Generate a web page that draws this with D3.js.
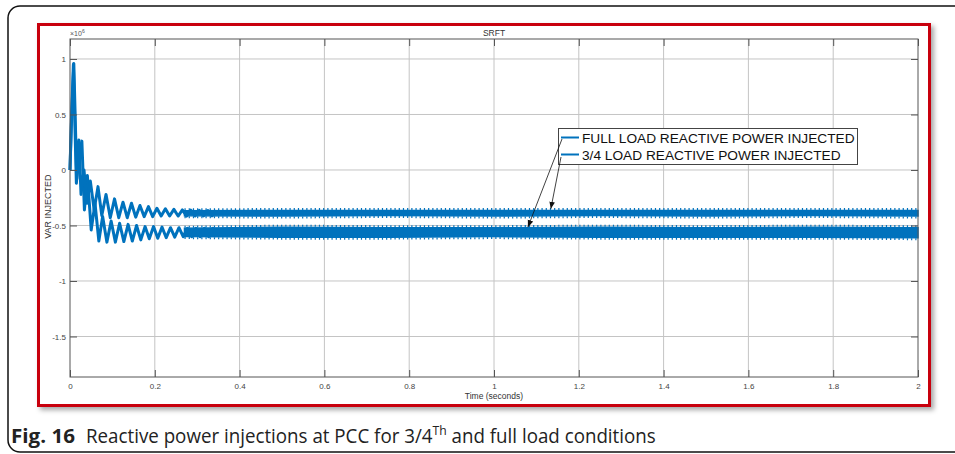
<!DOCTYPE html>
<html>
<head>
<meta charset="utf-8">
<script src="https://cdn.jsdelivr.net/npm/d3@7"></script>
<style>
  body { margin: 0; background: #fff; }
  svg { display: block; }
  text { font-family: "Liberation Sans", Arial, sans-serif; }
</style>
</head>
<body>
<svg id="chart" width="955" height="454"></svg>
<script>
// ---- data (VAR values in units of 1e6) ----
const xTicks = [0, 0.2, 0.4, 0.6, 0.8, 1, 1.2, 1.4, 1.6, 1.8, 2];
const yTicks = [-1.5, -1, -0.5, 0, 0.5, 1];

// start-up transient, peaks and troughs of the 50 Hz swing
const fullTime = [0, 0.003, 0.008, 0.015, 0.02, 0.028, 0.034, 0.041, 0.05, 0.059, 0.068, 0.077,
    0.087, 0.097, 0.107, 0.117, 0.127, 0.137, 0.147, 0.157, 0.167, 0.177, 0.187, 0.197,
    0.207, 0.217, 0.227, 0.237, 0.247, 0.257, 0.267, 0.277, 0.287, 0.297, 0.307, 0.317,
    0.327, 0.337, 0.347];
const fullVar = [0, 0.42, 0.95, -0.12, 0.1, 0.26, -0.36, -0.05, -0.54, -0.3, -0.64, -0.42,
    -0.65, -0.46, -0.65, -0.48, -0.645, -0.49, -0.64, -0.5, -0.63, -0.51, -0.62, -0.51,
    -0.615, -0.515, -0.61, -0.52, -0.605, -0.52, -0.6, -0.525, -0.6, -0.525, -0.6, -0.525,
    -0.6, -0.525, -0.6];

const tqTime = [0, 0.003, 0.009, 0.016, 0.021, 0.026, 0.033, 0.04, 0.048, 0.057, 0.066, 0.075,
    0.085, 0.095, 0.105, 0.115, 0.125, 0.135, 0.145, 0.155, 0.165, 0.175, 0.185, 0.195,
    0.205, 0.215, 0.225, 0.235, 0.245, 0.255, 0.265, 0.275, 0.285, 0.295, 0.305, 0.315,
    0.325, 0.335, 0.345];
const tqVar = [0, 0.38, 0.96, -0.08, 0.27, -0.22, 0.0, -0.3, -0.1, -0.36, -0.15, -0.41,
    -0.22, -0.43, -0.26, -0.43, -0.29, -0.43, -0.3, -0.425, -0.32, -0.42, -0.33, -0.42,
    -0.345, -0.415, -0.35, -0.415, -0.355, -0.415, -0.36, -0.415, -0.362, -0.414, -0.364, -0.413,
    -0.365, -0.413, -0.366];

// steady state: the fast ripple fills a band, given by its edges
const bandTime = [0.27, 0.5, 0.75, 1.0, 1.25, 1.5, 1.75, 2.0];
const fullHi = [-0.525, -0.515, -0.52, -0.52, -0.515, -0.52, -0.515, -0.52];
const fullLo = [-0.6, -0.605, -0.605, -0.6, -0.605, -0.605, -0.605, -0.61];
const tqHi = [-0.368, -0.365, -0.365, -0.365, -0.365, -0.365, -0.365, -0.365];
const tqLo = [-0.412, -0.415, -0.41, -0.415, -0.41, -0.415, -0.41, -0.415];

const legendLabels = ["FULL LOAD REACTIVE POWER INJECTED", "3/4 LOAD REACTIVE POWER INJECTED"];
// where the annotation arrows point, [time, value]
const arrowTargets = [[1.08, -0.515], [1.134, -0.35]];

const blue = "#0072bd";

// ---- layout ----
const plot = { left: 70, top: 39, width: 848, height: 338 };

const svg = d3.select("#chart");

const defs = svg.append("defs");
const shadow = defs.append("filter").attr("id", "shadow")
    .attr("x", "-5%").attr("y", "-5%").attr("width", "110%").attr("height", "110%");
shadow.append("feDropShadow")
    .attr("dx", 3).attr("dy", 3).attr("stdDeviation", 2.5)
    .attr("flood-color", "#000").attr("flood-opacity", 0.35);

defs.append("marker").attr("id", "arrow")
    .attr("viewBox", "0 0 10 10").attr("refX", 10).attr("refY", 5)
    .attr("markerWidth", 7).attr("markerHeight", 7)
    .attr("markerUnits", "userSpaceOnUse")
    .attr("orient", "auto")
  .append("path").attr("d", "M0,1 L10,5 L0,9 z").attr("fill", "#111");

// outer figure card
svg.append("rect")
    .attr("x", 8).attr("y", 6).attr("width", 1000).attr("height", 446)
    .attr("rx", 12).attr("fill", "#fff")
    .attr("stroke", "#111").attr("stroke-width", 1.5);

// red frame with drop shadow
svg.append("rect")
    .attr("x", 38.5).attr("y", 24.5).attr("width", 891).attr("height", 381)
    .attr("fill", "#fff").attr("stroke", "#c8000a").attr("stroke-width", 3)
    .attr("filter", "url(#shadow)");

const x = d3.scaleLinear().domain([0, 2]).range([plot.left, plot.left + plot.width]);
const y = d3.scaleLinear().domain([-1.865, 1.18]).range([plot.top + plot.height, plot.top]);

const g = svg.append("g");

// grid
g.append("g").selectAll("line").data(xTicks.slice(1, -1)).join("line")
    .attr("x1", d => x(d)).attr("x2", d => x(d))
    .attr("y1", plot.top).attr("y2", plot.top + plot.height)
    .attr("stroke", "#c4c4c4").attr("stroke-width", 1);
g.append("g").selectAll("line").data(yTicks).join("line")
    .attr("x1", plot.left).attr("x2", plot.left + plot.width)
    .attr("y1", d => y(d)).attr("y2", d => y(d))
    .attr("stroke", "#c4c4c4").attr("stroke-width", 1);

// series: transient lines then steady bands
const line = d3.line().x(d => x(d[0])).y(d => y(d[1]));
const area = d3.area().x(d => x(d[0])).y0(d => y(d[1])).y1(d => y(d[2]));
const edgeHi = d3.line().x(d => x(d[0])).y(d => y(d[1]) - 1.5);
const edgeLo = d3.line().x(d => x(d[0])).y(d => y(d[2]) + 1.5);

function drawSeries(time, vals, bt, hi, lo) {
    const band = bt.map((t, i) => [t, hi[i], lo[i]]);
    g.append("path").datum(band).attr("d", area)
        .attr("fill", blue).attr("stroke", blue).attr("stroke-width", 1.5);
    // fast ripple shows as a dotted fringe on both edges
    [edgeHi, edgeLo].forEach(e => {
        g.append("path").datum(band).attr("d", e)
            .attr("fill", "none").attr("stroke", blue)
            .attr("stroke-width", 2).attr("stroke-dasharray", "1.2,3");
    });
    g.append("path")
        .datum(time.map((t, i) => [t, vals[i]]))
        .attr("d", line)
        .attr("fill", "none").attr("stroke", blue)
        .attr("stroke-width", 3).attr("stroke-linejoin", "round");
}
drawSeries(fullTime, fullVar, bandTime, fullHi, fullLo);
drawSeries(tqTime, tqVar, bandTime, tqHi, tqLo);

// axes, ticks inside as in MATLAB with box on
const tickFmt = d => String(d);
const axisStyle = sel => {
    sel.select(".domain").remove();
    sel.selectAll("line").attr("stroke", "#555");
    sel.selectAll("text").attr("fill", "#444").style("font-size", "8px")
        .style("font-family", "'Liberation Sans', Arial, sans-serif");
};
svg.append("g").attr("transform", `translate(0,${plot.top + plot.height})`)
    .call(d3.axisBottom(x).tickValues(xTicks).tickFormat(tickFmt).tickSize(-7).tickPadding(6))
    .call(axisStyle);
svg.append("g").attr("transform", `translate(0,${plot.top})`)
    .call(d3.axisTop(x).tickValues(xTicks).tickFormat("").tickSize(-7))
    .call(axisStyle);
svg.append("g").attr("transform", `translate(${plot.left},0)`)
    .call(d3.axisLeft(y).tickValues(yTicks).tickFormat(tickFmt).tickSize(-7).tickPadding(4))
    .call(axisStyle);
svg.append("g").attr("transform", `translate(${plot.left + plot.width},0)`)
    .call(d3.axisRight(y).tickValues(yTicks).tickFormat("").tickSize(-7))
    .call(axisStyle);

svg.append("rect")
    .attr("x", plot.left).attr("y", plot.top)
    .attr("width", plot.width).attr("height", plot.height)
    .attr("fill", "none").attr("stroke", "#555").attr("stroke-width", 1);

// titles
svg.append("text").attr("x", plot.left + plot.width / 2).attr("y", 36)
    .attr("text-anchor", "middle").attr("fill", "#333").style("font-size", "8.5px")
    .text("SRFT");
svg.append("text").attr("x", 70).attr("y", 36)
    .attr("fill", "#555").style("font-size", "7px")
    .text("\u00d710")
  .append("tspan").attr("dy", -3).style("font-size", "5px").text("6");
svg.append("text").attr("x", plot.left + plot.width / 2).attr("y", 399)
    .attr("text-anchor", "middle").attr("fill", "#333").style("font-size", "8.5px")
    .text("Time (seconds)");
svg.append("text")
    .attr("transform", `translate(51,${y(-0.33)}) rotate(-90)`)
    .attr("text-anchor", "middle").attr("fill", "#333").style("font-size", "9px")
    .text("VAR INJECTED");

// legend
const lg = svg.append("g").attr("transform", "translate(558,128)");
lg.append("rect").attr("x", 0.5).attr("y", 0.5).attr("width", 299).attr("height", 36)
    .attr("fill", "#fff").attr("stroke", "#444").attr("stroke-width", 1);
legendLabels.forEach((label, i) => {
    const ly = 9.5 + i * 17;
    lg.append("line").attr("x1", 3).attr("x2", 21).attr("y1", ly).attr("y2", ly)
        .attr("stroke", blue).attr("stroke-width", 2);
    lg.append("text").attr("x", 24).attr("y", ly + 5)
        .attr("fill", "#111").style("font-size", "13.7px").text(label);
});

// annotation arrows from legend to the bands
const arrowStarts = [[562, 139], [561, 157]];
arrowTargets.forEach((t, i) => {
    svg.append("line")
        .attr("x1", arrowStarts[i][0]).attr("y1", arrowStarts[i][1])
        .attr("x2", x(t[0])).attr("y2", y(t[1]))
        .attr("stroke", "#111").attr("stroke-width", 0.8)
        .attr("marker-end", "url(#arrow)");
});

// figure caption, squeezed to the width of the condensed original face
function fitText(sel, x0, baseline, width) {
    const w = sel.node().getBBox().width;
    sel.attr("transform", `translate(${x0},${baseline}) scale(${width / w},1)`);
}
const capFont = "'Open Sans', 'Noto Sans', sans-serif";
const capBold = svg.append("text")
    .attr("fill", "#222").style("font-family", capFont)
    .style("font-size", "20px").style("font-weight", "bold")
    .text("Fig. 16");
fitText(capBold, 11, 443, 64);
const capText = svg.append("text")
    .attr("fill", "#222").style("font-family", capFont)
    .style("font-size", "20px");
capText.append("tspan").text("Reactive power injections at PCC for 3/4");
capText.append("tspan").attr("dy", -8).style("font-size", "13px").text("Th");
capText.append("tspan").attr("dy", 8).text(" and full load conditions");
fitText(capText, 86, 443, 570);
</script>
</body>
</html>
